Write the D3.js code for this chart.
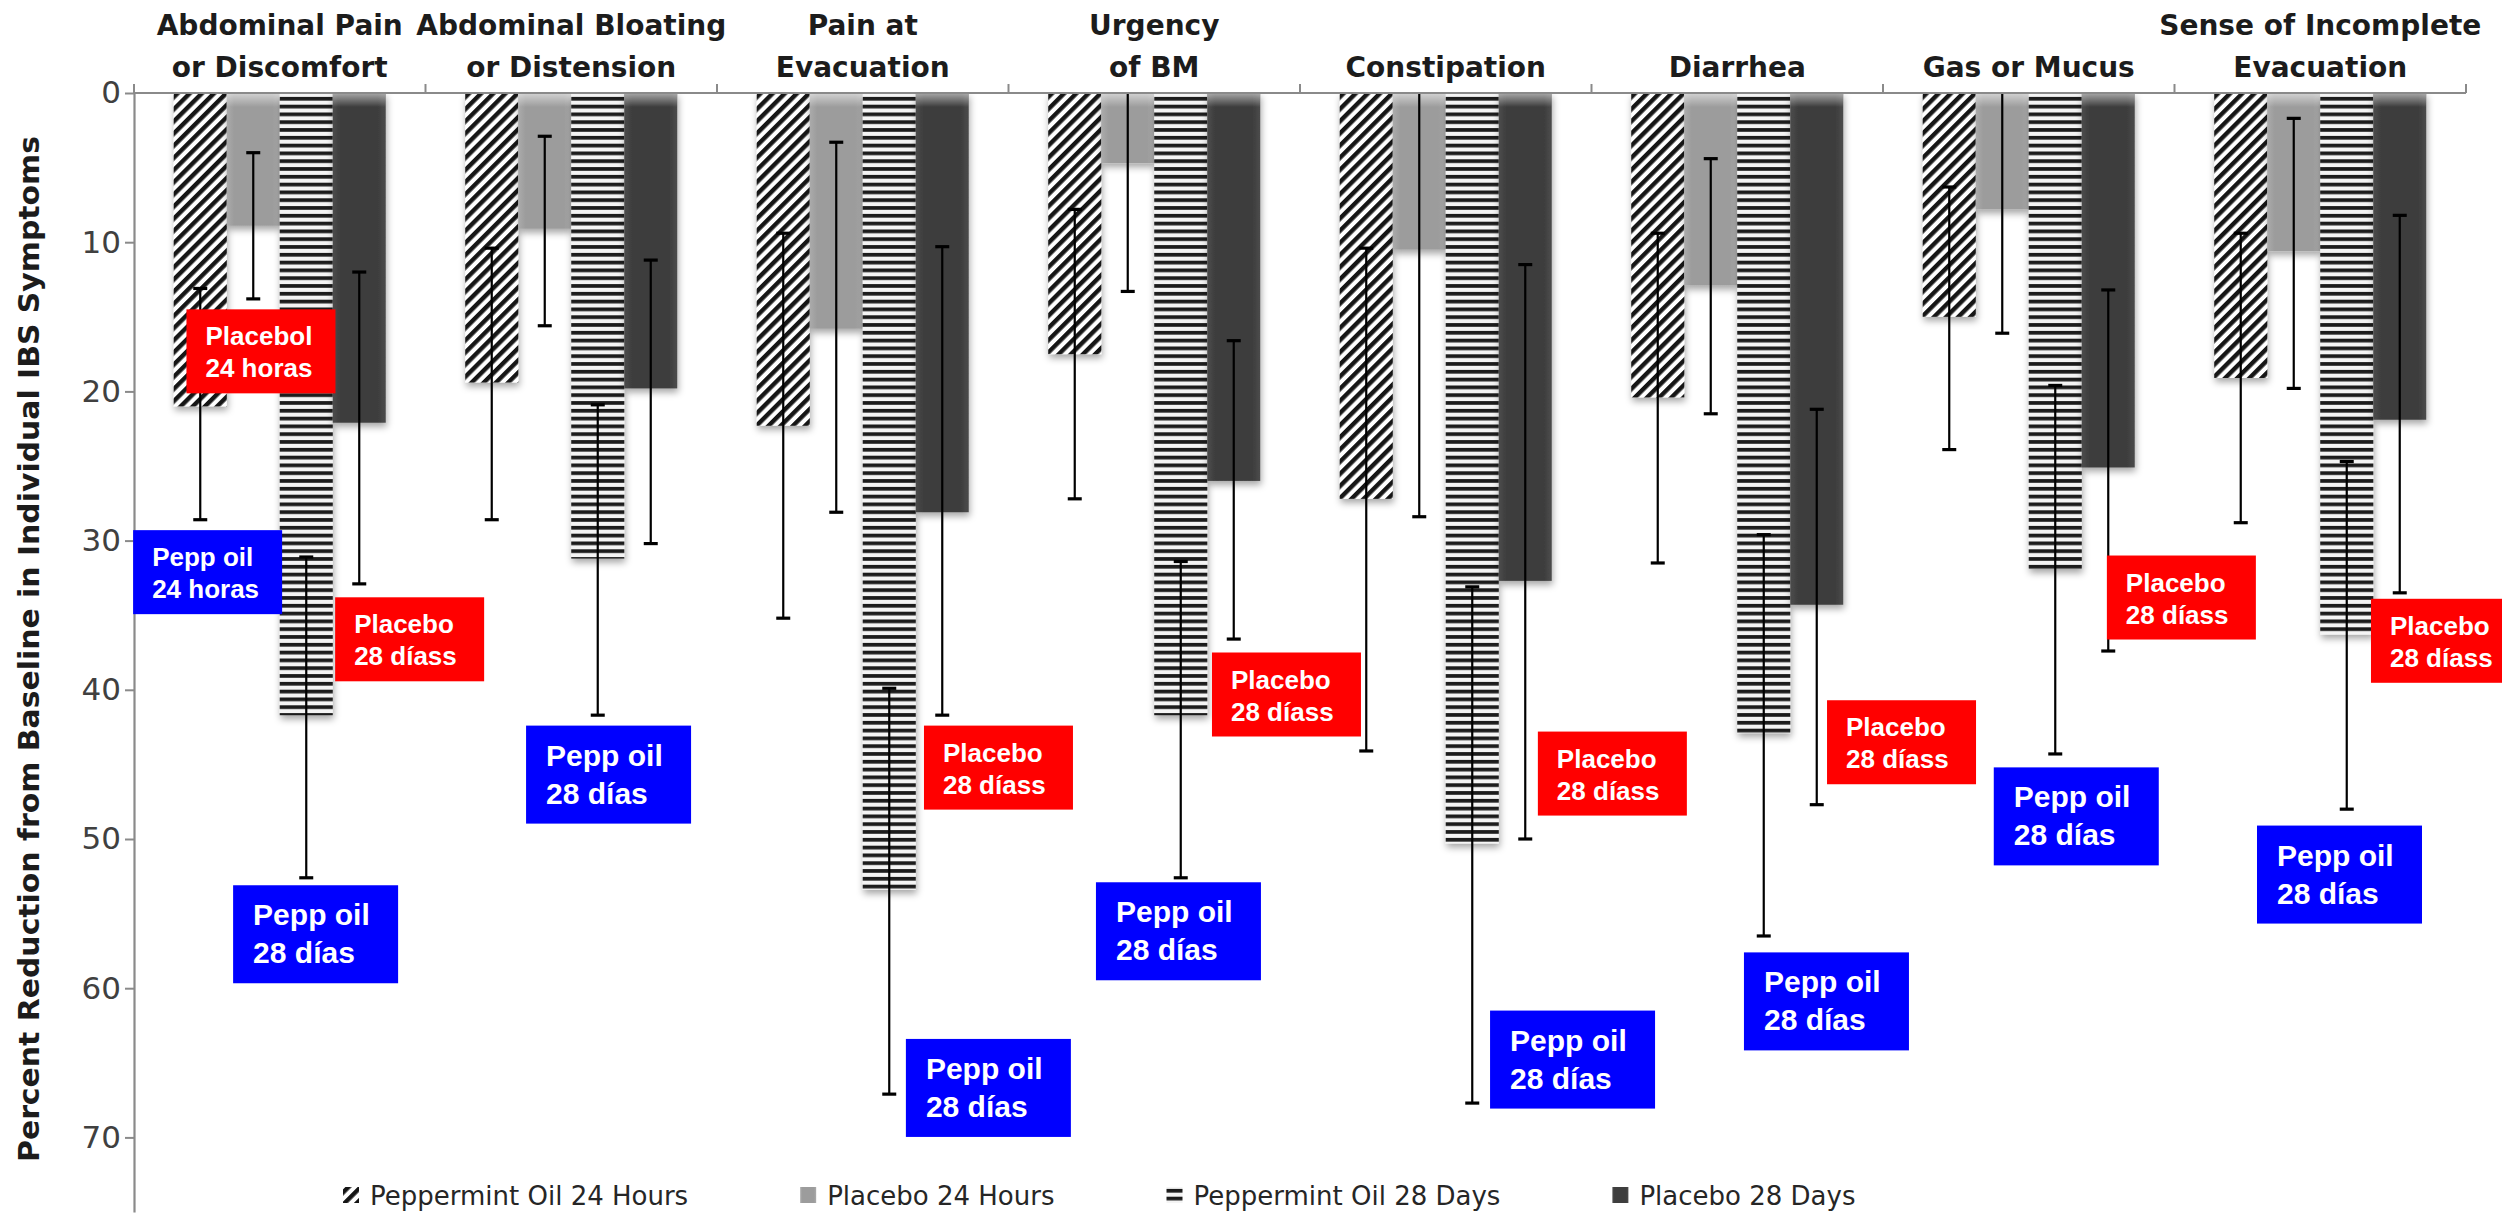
<!DOCTYPE html>
<html>
<head>
<meta charset="utf-8">
<script src="https://cdn.jsdelivr.net/npm/d3@7"></script>
<style>
  html, body { margin: 0; padding: 0; background: #ffffff; }
  svg { display: block; }
</style>
</head>
<body>
<svg id="chart" width="2502" height="1228"></svg>
<script>
// Symptom categories (line breaks mark the two-line headers)
const categories = [
  "Abdominal Pain\nor Discomfort",
  "Abdominal Bloating\nor Distension",
  "Pain at\nEvacuation",
  "Urgency\nof BM",
  "Constipation",
  "Diarrhea",
  "Gas or Mucus",
  "Sense of Incomplete\nEvacuation"
];

const seriesNames = ["Peppermint Oil 24 Hours", "Placebo 24 Hours", "Peppermint Oil 28 Days", "Placebo 28 Days"];

// Mean percent reduction from baseline
const pepp24 = [21.0, 19.4, 22.3, 17.5, 27.2, 20.4, 15.0, 19.1];
const plac24 = [8.9, 9.1, 15.8, 4.7, 10.5, 12.9, 7.8, 10.6];
const pepp28 = [41.7, 31.2, 53.4, 41.7, 50.3, 42.9, 31.9, 36.3];
const plac28 = [22.1, 19.8, 28.1, 26.0, 32.7, 34.3, 25.1, 21.9];

// Error bar ends: shallow end (toward 0) and deep end
const pepp24Lo = [13.1, 10.4, 9.4, 7.8, 10.4, 9.4, 6.3, 9.4];
const pepp24Hi = [28.6, 28.6, 35.2, 27.2, 44.1, 31.5, 23.9, 28.8];
const plac24Lo = [4.0, 2.9, 3.3, -3.9, -7.4, 4.4, -0.5, 1.7];
const plac24Hi = [13.8, 15.6, 28.1, 13.3, 28.4, 21.5, 16.1, 19.8];
const pepp28Lo = [31.1, 20.9, 39.9, 31.4, 33.1, 29.6, 19.6, 24.7];
const pepp28Hi = [52.6, 41.7, 67.1, 52.6, 67.7, 56.5, 44.3, 48.0];
const plac28Lo = [12.0, 11.2, 10.3, 16.6, 11.5, 21.2, 13.2, 8.2];
const plac28Hi = [32.9, 30.2, 41.7, 36.6, 50.0, 47.7, 37.4, 33.5];

const yTicks = [0, 10, 20, 30, 40, 50, 60, 70];
const yTitle = "Percent Reduction from Baseline in Individual IBS Symptoms";

// Callout boxes: category, horizontal anchor within the category band, depth in % units
const callouts = [
  { cat: 0, at: 0.18,   v: 14.5, lines: ["Placebol", "24 horas"], tone: "placebo", size: "small" },
  { cat: 0, at: -0.003, v: 29.3, lines: ["Pepp oil", "24 horas"], tone: "pepp",    size: "small" },
  { cat: 0, at: 0.69,   v: 33.8, lines: ["Placebo", "28 díass"],  tone: "placebo", size: "small" },
  { cat: 1, at: 0.345,  v: 42.4, lines: ["Pepp oil", "28 días"],  tone: "pepp",    size: "big" },
  { cat: 0, at: 0.34,   v: 53.1, lines: ["Pepp oil", "28 días"],  tone: "pepp",    size: "big" },
  { cat: 2, at: 0.71,   v: 42.4, lines: ["Placebo", "28 díass"],  tone: "placebo", size: "small" },
  { cat: 2, at: 0.648,  v: 63.4, lines: ["Pepp oil", "28 días"],  tone: "pepp",    size: "big" },
  { cat: 3, at: 0.698,  v: 37.5, lines: ["Placebo", "28 díass"],  tone: "placebo", size: "small" },
  { cat: 3, at: 0.30,   v: 52.9, lines: ["Pepp oil", "28 días"],  tone: "pepp",    size: "big" },
  { cat: 4, at: 0.816,  v: 42.8, lines: ["Placebo", "28 díass"],  tone: "placebo", size: "small" },
  { cat: 4, at: 0.652,  v: 61.5, lines: ["Pepp oil", "28 días"],  tone: "pepp",    size: "big" },
  { cat: 5, at: 0.808,  v: 40.7, lines: ["Placebo", "28 díass"],  tone: "placebo", size: "small" },
  { cat: 5, at: 0.523,  v: 57.6, lines: ["Pepp oil", "28 días"],  tone: "pepp",    size: "big" },
  { cat: 6, at: 0.768,  v: 31.0, lines: ["Placebo", "28 díass"],  tone: "placebo", size: "small" },
  { cat: 6, at: 0.38,   v: 45.2, lines: ["Pepp oil", "28 días"],  tone: "pepp",    size: "big" },
  { cat: 7, at: 0.674,  v: 33.9, lines: ["Placebo", "28 díass"],  tone: "placebo", size: "small" },
  { cat: 7, at: 0.283,  v: 49.1, lines: ["Pepp oil", "28 días"],  tone: "pepp",    size: "big" }
];

// ---------------------------------------------------------------------------
const keys = ["p24", "c24", "p28", "c28"];
const values = { p24: pepp24, c24: plac24, p28: pepp28, c28: plac28 };
const lows   = { p24: pepp24Lo, c24: plac24Lo, p28: pepp28Lo, c28: plac28Lo };
const highs  = { p24: pepp24Hi, c24: plac24Hi, p28: pepp28Hi, c28: plac28Hi };
const fills  = { p24: "url(#hatch)", c24: "url(#lightGrad)", p28: "url(#stripes)", c28: "url(#darkGrad)" };

const rows = categories.map((c, i) => ({
  cat: c,
  bars: keys.map(k => ({ key: k, v: values[k][i], lo: lows[k][i], hi: highs[k][i] }))
}));

const plot = { left: 134, right: 2466, top: 93, bottom: 1212 };
const FONT = "'DejaVu Sans', 'Open Sans', sans-serif";
const BOXFONT = "'Liberation Sans', Arial, sans-serif";

const svg = d3.select("#chart");

const x0 = d3.scaleBand().domain(categories).range([plot.left, plot.right]).paddingInner(0).paddingOuter(0);
const x1 = d3.scaleBand().domain(keys).range([0, x0.bandwidth()]).paddingInner(0).paddingOuter(0.75);
const y = d3.scaleLinear().domain([0, 75]).range([plot.top, plot.bottom]);

// ---- defs: fills, bevel highlights, shadow, clip
const defs = svg.append("defs");

const hatch = defs.append("pattern").attr("id", "hatch")
  .attr("patternUnits", "userSpaceOnUse").attr("width", 8.6).attr("height", 20)
  .attr("patternTransform", "rotate(45)");
hatch.append("rect").attr("width", 8.6).attr("height", 20).attr("fill", "#ffffff");
hatch.append("rect").attr("width", 4.4).attr("height", 20).attr("fill", "#151515");

const stripes = defs.append("pattern").attr("id", "stripes")
  .attr("patternUnits", "userSpaceOnUse").attr("width", 20).attr("height", 7.8)
  .attr("y", plot.top);
stripes.append("rect").attr("width", 20).attr("height", 7.8).attr("fill", "#f4f4f4");
stripes.append("rect").attr("y", 3.9).attr("width", 20).attr("height", 3.7).attr("fill", "#1a1a1a");

function sideGradient(id, edge, mid) {
  const g = defs.append("linearGradient").attr("id", id).attr("x1", "0").attr("x2", "1").attr("y1", "0").attr("y2", "0");
  g.append("stop").attr("offset", "0%").attr("stop-color", edge);
  g.append("stop").attr("offset", "14%").attr("stop-color", mid);
  g.append("stop").attr("offset", "86%").attr("stop-color", mid);
  g.append("stop").attr("offset", "100%").attr("stop-color", edge);
}
sideGradient("lightGrad", "#ababab", "#9c9c9c");
sideGradient("darkGrad", "#4c4c4c", "#3e3e3e");

const topGlow = defs.append("linearGradient").attr("id", "topGlow").attr("x1", "0").attr("x2", "0").attr("y1", "0").attr("y2", "1");
topGlow.append("stop").attr("offset", "0%").attr("stop-color", "#ffffff").attr("stop-opacity", 0.55);
topGlow.append("stop").attr("offset", "100%").attr("stop-color", "#ffffff").attr("stop-opacity", 0);

const shadow = defs.append("filter").attr("id", "barShadow")
  .attr("x", "-30%").attr("y", "-10%").attr("width", "160%").attr("height", "130%");
shadow.append("feDropShadow").attr("dx", 1).attr("dy", 4).attr("stdDeviation", 3.5)
  .attr("flood-color", "#000").attr("flood-opacity", 0.35);

defs.append("clipPath").attr("id", "plotClip").append("rect")
  .attr("x", plot.left - 20).attr("y", plot.top)
  .attr("width", plot.right - plot.left + 40).attr("height", plot.bottom - plot.top);

// ---- bars
const groups = svg.append("g").attr("clip-path", "url(#plotClip)")
  .selectAll("g.cat").data(rows).join("g")
  .attr("class", "cat")
  .attr("transform", d => `translate(${x0(d.cat)},0)`);

groups.selectAll("rect.bar").data(d => d.bars).join("rect")
  .attr("class", "bar")
  .attr("x", d => x1(d.key))
  .attr("y", y(0))
  .attr("width", x1.bandwidth())
  .attr("height", d => y(d.v) - y(0))
  .attr("fill", d => fills[d.key])
  .attr("filter", "url(#barShadow)");

// bevel highlight on the solid bars
groups.selectAll("rect.glow").data(d => d.bars.filter(b => b.key === "c24" || b.key === "c28")).join("rect")
  .attr("class", "glow")
  .attr("x", d => x1(d.key))
  .attr("y", y(0))
  .attr("width", x1.bandwidth())
  .attr("height", d => Math.min(14, y(d.v) - y(0)))
  .attr("fill", "url(#topGlow)");

// ---- error bars
const capHalf = 7;
const eb = groups.selectAll("g.err").data(d => d.bars).join("g")
  .attr("class", "err")
  .attr("transform", d => `translate(${x1(d.key) + x1.bandwidth() / 2},0)`);
eb.append("line")
  .attr("y1", d => y(d.lo)).attr("y2", d => y(d.hi))
  .attr("stroke", "#000").attr("stroke-width", 2.2);
eb.append("line")
  .attr("x1", -capHalf).attr("x2", capHalf)
  .attr("y1", d => y(d.lo)).attr("y2", d => y(d.lo))
  .attr("stroke", "#000").attr("stroke-width", 3.2);
eb.append("line")
  .attr("x1", -capHalf).attr("x2", capHalf)
  .attr("y1", d => y(d.hi)).attr("y2", d => y(d.hi))
  .attr("stroke", "#000").attr("stroke-width", 3.2);

// ---- value axis (left)
const yAxis = svg.append("g")
  .attr("transform", `translate(${plot.left},0)`)
  .call(d3.axisLeft(y).tickValues(yTicks).tickSize(9).tickSizeOuter(0).tickPadding(4));
yAxis.select(".domain").attr("stroke", "#8a8a8a").attr("stroke-width", 2.2);
yAxis.selectAll(".tick line").attr("stroke", "#8a8a8a").attr("stroke-width", 2);
yAxis.selectAll(".tick text")
  .attr("font-family", FONT).attr("font-size", 31).attr("fill", "#404040");

// ---- category axis along the top
const xAxis = svg.append("g").attr("transform", `translate(0,${plot.top})`);
xAxis.append("line")
  .attr("x1", plot.left).attr("x2", plot.right)
  .attr("stroke", "#8a8a8a").attr("stroke-width", 2.2);
const bounds = categories.map(c => x0(c)).concat([x0(categories[categories.length - 1]) + x0.bandwidth()]);
xAxis.selectAll("line.tick").data(bounds).join("line")
  .attr("class", "tick")
  .attr("x1", d => d).attr("x2", d => d)
  .attr("y1", 0).attr("y2", -9)
  .attr("stroke", "#8a8a8a").attr("stroke-width", 2);

const catLabels = svg.append("g").selectAll("text").data(categories).join("text")
  .attr("x", d => x0(d) + x0.bandwidth() / 2)
  .attr("text-anchor", "middle")
  .attr("font-family", FONT).attr("font-weight", "bold").attr("font-size", 28)
  .attr("fill", "#1c1c1c");
catLabels.each(function (d) {
  const lines = d.split("\n");
  const baselines = lines.length === 2 ? [35, 77] : [77];
  d3.select(this).selectAll("tspan").data(lines).join("tspan")
    .attr("x", x0(d) + x0.bandwidth() / 2)
    .attr("y", (l, i) => baselines[i])
    .text(l => l);
});

// ---- axis title
svg.append("text")
  .attr("transform", `translate(29,${(plot.top + 1205) / 2}) rotate(-90)`)
  .attr("text-anchor", "middle").attr("dominant-baseline", "central")
  .attr("font-family", FONT).attr("font-weight", "bold").attr("font-size", 28)
  .attr("textLength", 1026).attr("lengthAdjust", "spacingAndGlyphs")
  .attr("fill", "#1c1c1c")
  .text(yTitle);

// ---- legend
const legend = svg.append("g");
let lx = 343;
seriesNames.forEach((name, i) => {
  const k = keys[i];
  legend.append("rect")
    .attr("x", lx).attr("y", 1187).attr("width", 16).attr("height", 16)
    .attr("fill", fills[k]);
  const t = legend.append("text")
    .attr("x", lx + 27).attr("y", 1205)
    .attr("font-family", FONT).attr("font-size", 26).attr("fill", "#262626")
    .text(name);
  lx = lx + 27 + t.node().getComputedTextLength() + 112;
});

// ---- callout boxes
const boxSpec = {
  small: { w: 149, h: 84, fs: 26, dx: 19, b1: 36, b2: 68 },
  big:   { w: 165, h: 98, fs: 30, dx: 20, b1: 40, b2: 78 }
};
const toneColor = { placebo: "#ff0000", pepp: "#0000ff" };

const notes = svg.append("g").selectAll("g").data(callouts).join("g")
  .attr("transform", d => `translate(${x0(categories[d.cat]) + d.at * x0.bandwidth()},${y(d.v)})`);
notes.append("rect")
  .attr("width", d => boxSpec[d.size].w)
  .attr("height", d => boxSpec[d.size].h)
  .attr("fill", d => toneColor[d.tone]);
notes.each(function (d) {
  const s = boxSpec[d.size];
  d3.select(this).selectAll("text").data(d.lines).join("text")
    .attr("x", s.dx)
    .attr("y", (l, i) => i === 0 ? s.b1 : s.b2)
    .attr("font-family", BOXFONT).attr("font-weight", "bold").attr("font-size", s.fs)
    .attr("fill", "#ffffff")
    .text(l => l);
});
</script>
</body>
</html>
